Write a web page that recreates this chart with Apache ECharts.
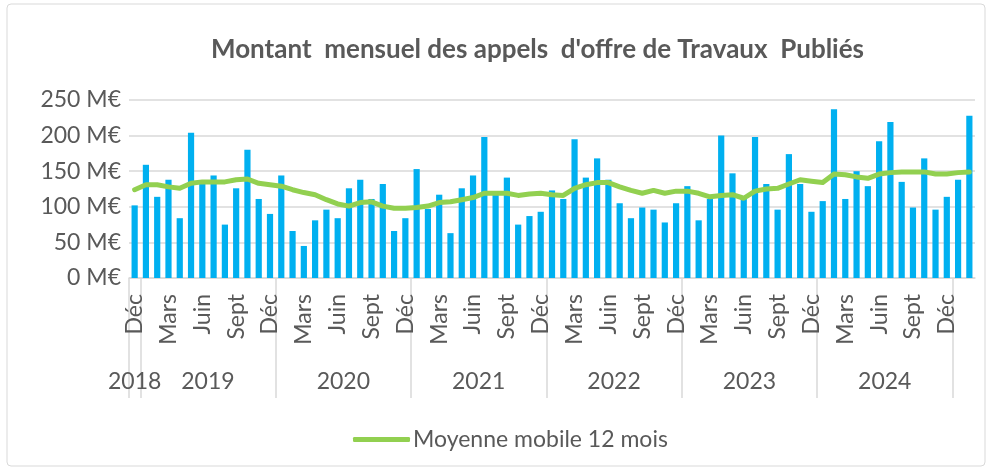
<!DOCTYPE html>
<html>
<head>
<meta charset="utf-8">
<script src="https://cdn.jsdelivr.net/npm/echarts@6/dist/echarts.min.js"></script>
<style>
  html, body { margin: 0; padding: 0; background: #fff; }
  #chart { width: 992px; height: 471px; }
</style>
</head>
<body>
<div id="chart"></div>
<script>
// months shown on the axis, Dec 2018 -> Feb 2025
var monthNames = ['Janv', 'Févr', 'Mars', 'Avr', 'Mai', 'Juin', 'Juil', 'Août', 'Sept', 'Oct', 'Nov', 'Déc'];
var startYear = 2018;
var startMonth = 11; // déc.

// year groups under the month labels (2025 months are not labelled)
var years = ['2018', '2019', '2020', '2021', '2022', '2023', '2024'];
var monthsInYear = [1, 12, 12, 12, 12, 12, 12];

// M€ per month
var montants = [
  102,
  159, 114, 138, 84, 204, 137, 144, 75, 126, 180, 111, 90,
  144, 66, 45, 81, 96, 84, 126, 138, 111, 132, 66, 84,
  153, 97, 117, 63, 126, 144, 198, 118, 141, 75, 87, 93,
  123, 111, 195, 141, 168, 138, 105, 84, 99, 96, 78, 105,
  129, 81, 111, 200, 147, 111, 198, 132, 96, 174, 132, 93,
  108, 237, 111, 150, 129, 192, 219, 135, 99, 168, 96, 114,
  138, 228
];

var moyenneMobile = [
  124,
  131, 131, 128, 126, 133, 135, 135, 135, 138, 139, 133, 131,
  129, 124, 120, 117, 110, 104, 101, 106, 107, 101, 98, 98,
  99, 101, 106, 107, 110, 113, 119, 119, 119, 116, 118, 119,
  117, 116, 126, 131, 134, 134, 128, 123, 119, 123, 119, 122,
  122, 119, 114, 116, 117, 112, 122, 125, 126, 132, 138, 136,
  134, 146, 145, 142, 140, 146, 148, 149, 149, 149, 146, 146,
  148, 149
];

var yTicks = [0, 50, 100, 150, 200, 250];

var mois = [];
for (var i = 0; i < montants.length; i++) {
  var m = (startMonth + i) % 12;
  var y = startYear + Math.floor((startMonth + i) / 12);
  mois.push(monthNames[m] + ' ' + y);
}

// where the year labels sit and where the group lines go
var yearCenters = [], yearBounds = [0], pos = 0;
for (var k = 0; k < years.length; k++) {
  yearCenters.push(pos + monthsInYear[k] / 2);
  pos += monthsInYear[k];
  yearBounds.push(pos);
}

var txt = '#595959';
var font = 'Lato';

var chart = echarts.init(document.getElementById('chart'));

chart.setOption({
  backgroundColor: '#fff',
  animation: false,
  graphic: [{
    type: 'rect',
    shape: { x: 7, y: 4, width: 978, height: 462, r: 4 },
    style: { fill: 'none', stroke: '#D9D9D9', lineWidth: 1 },
    silent: true
  }],
  title: {
    text: "Montant  mensuel des appels  d'offre de Travaux  Publiés",
    left: 206,
    top: 32,
    textStyle: { fontFamily: font, fontSize: 26, fontWeight: 'bold', color: txt }
  },
  legend: {
    data: ['Moyenne mobile 12 mois'],
    left: 348,
    top: 423,
    icon: 'roundRect',
    itemWidth: 57,
    itemHeight: 5,
    itemGap: 10,
    textStyle: { fontFamily: font, fontSize: 23, color: txt, padding: [0, 0, 0, -2] }
  },
  grid: { left: 129, right: 17, top: 100, bottom: 193, containLabel: false },
  xAxis: [{
    type: 'category',
    data: mois,
    axisLine: { lineStyle: { color: '#D9D9D9', width: 1.5 } },
    axisTick: { show: false },
    axisLabel: {
      interval: 2,
      rotate: 90,
      margin: 16,
      fontFamily: font,
      fontSize: 23,
      color: txt,
      formatter: function (v) { return v.split(' ')[0]; }
    }
  }, {
    type: 'value',
    min: 0,
    max: montants.length,
    position: 'bottom',
    axisLine: { show: false },
    splitLine: { show: false },
    axisTick: {
      show: true,
      customValues: yearBounds,
      length: 120,
      lineStyle: { color: '#D9D9D9', width: 1.5 }
    },
    axisLabel: {
      customValues: yearCenters,
      margin: 92,
      fontFamily: font,
      fontSize: 23,
      color: txt,
      formatter: function (v) {
        for (var j = 0; j < yearCenters.length; j++) {
          if (Math.abs(yearCenters[j] - v) < 1e-6) return years[j];
        }
        return '';
      }
    }
  }],
  yAxis: {
    type: 'value',
    min: yTicks[0],
    max: yTicks[yTicks.length - 1],
    interval: 50,
    axisLine: { show: false },
    axisTick: { show: false },
    splitLine: { lineStyle: { color: '#D9D9D9', width: 1.5 } },
    axisLabel: {
      margin: 8,
      fontFamily: font,
      fontSize: 23,
      color: txt,
      formatter: function (v) { return v + ' M€'; }
    }
  },
  series: [{
    name: 'Montant mensuel',
    type: 'bar',
    data: montants,
    barWidth: '55%',
    itemStyle: { color: '#00B0F0' }
  }, {
    name: 'Moyenne mobile 12 mois',
    type: 'line',
    data: moyenneMobile,
    symbol: 'none',
    lineStyle: { color: '#92D050', width: 5, cap: 'round', join: 'round' },
    itemStyle: { color: '#92D050' },
    z: 3
  }]
});
</script>
</body>
</html>
